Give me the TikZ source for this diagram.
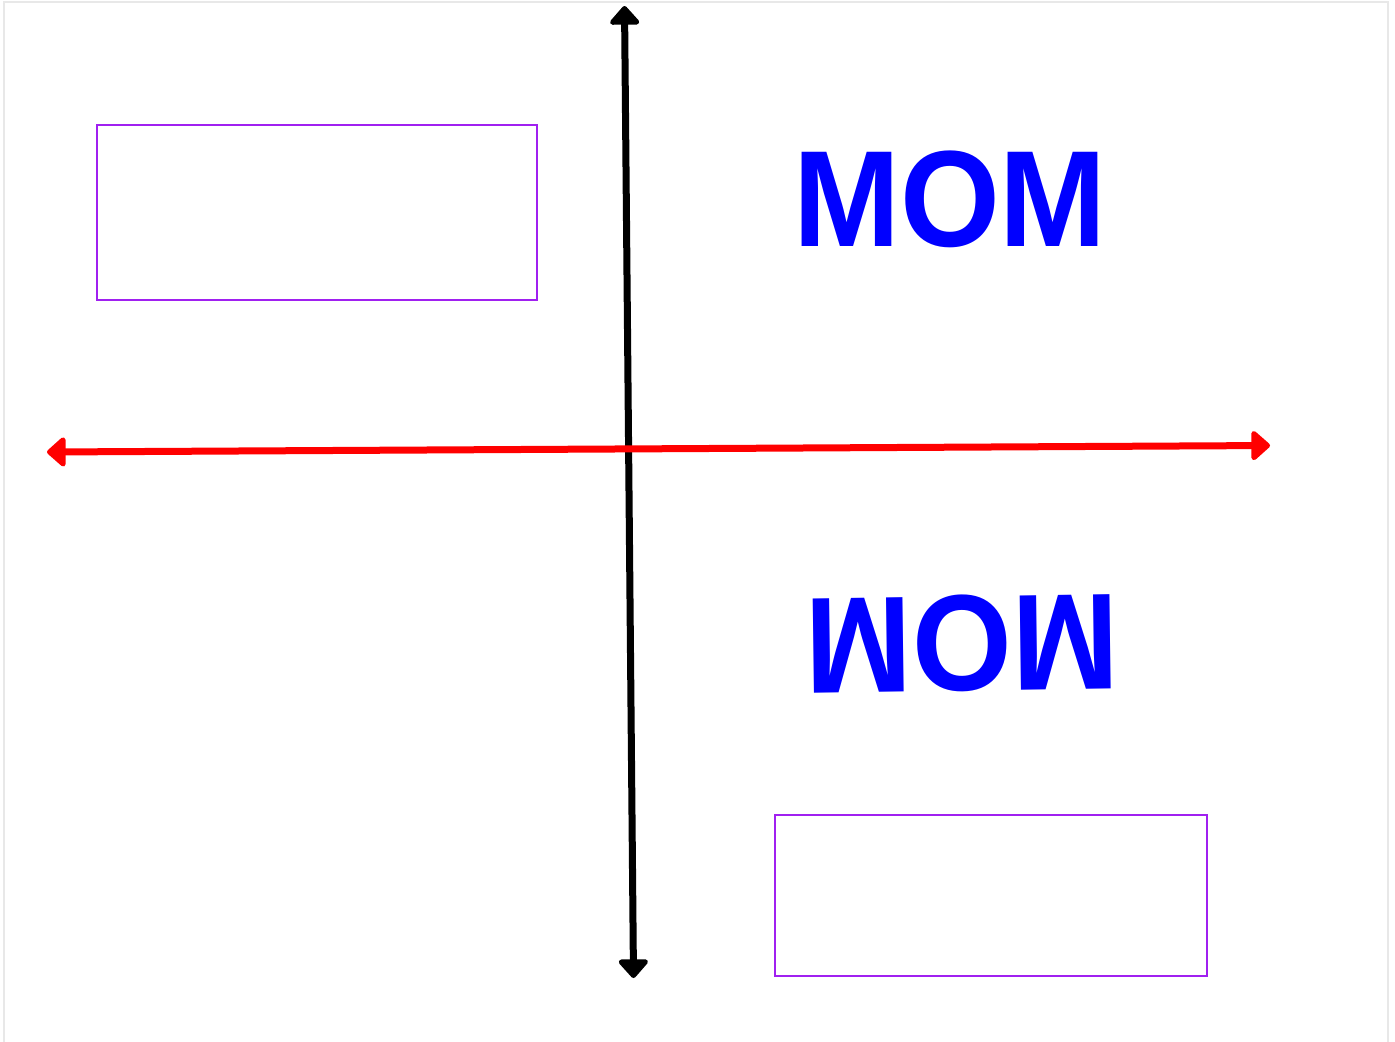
\documentclass[tikz,border=0pt]{standalone}
\usepackage{fontspec}
\setmainfont{Liberation Sans}
\usetikzlibrary{arrows.meta}
\definecolor{boxpurple}{RGB}{160,32,240}
\definecolor{framegray}{RGB}{232,232,232}
\tikzset{
  axisline/.style={line width=3.5pt, {Triangle[round,width=17pt,length=10pt]}-{Triangle[round,width=17pt,length=10pt]}},
  emptybox/.style={draw=boxpurple, line width=1.1pt, fill=none},
  bigword/.style={font=\fontsize{66.5pt}{70pt}\selectfont\bfseries, text=blue, inner sep=0pt, xscale=0.965, yscale=1.03}
}
\begin{document}
\begin{tikzpicture}[x=0.5pt,y=-0.5pt]
\useasboundingbox (0,0) rectangle (1395,1041);
\draw[framegray, line width=0.8pt] (4,1045) -- (4,2) -- (1388,2) -- (1388,1045);
\draw[emptybox] (97,125) rectangle (537,300);
\draw[emptybox] (775,815) rectangle (1207,976);
\coordinate (vtop) at (624.5,6);
\coordinate (vbot) at (633.5,978);
\coordinate (hleft) at (47,452);
\coordinate (hright) at (1270,445.5);
\draw[axisline, black] (vtop) -- (vbot);
\draw[axisline, red] (hleft) -- (hright);
\node[bigword] (mom) at (950,199.5) {MOM};
\node[bigword, rotate=180.8] (mommirror) at (962.5,643.5) {MOM};
\end{tikzpicture}
\end{document}
